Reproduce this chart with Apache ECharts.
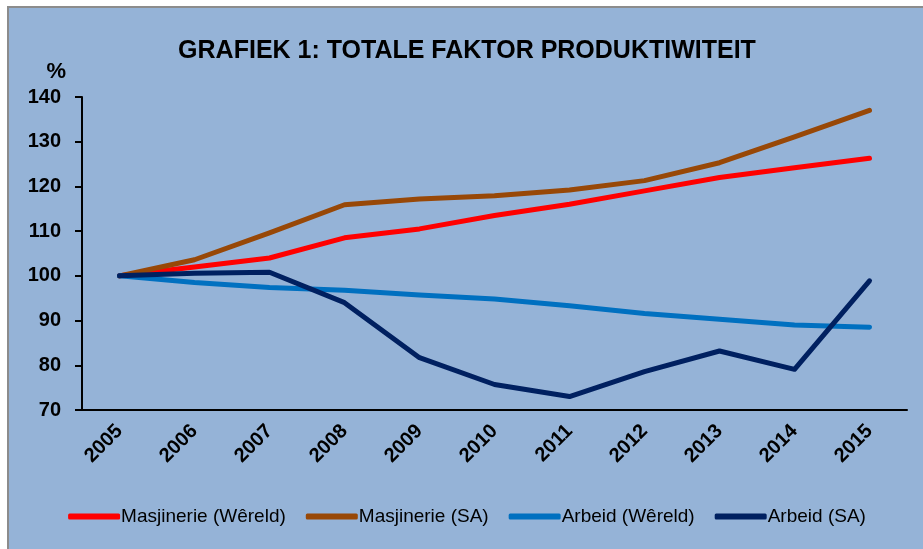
<!DOCTYPE html>
<html>
<head>
<meta charset="utf-8">
<script src="https://cdn.jsdelivr.net/npm/echarts@6/dist/echarts.min.js"></script>
<style>
  html, body { margin: 0; padding: 0; background: #fff; }
  #chart {
    position: absolute; left: 7px; top: 6px;
    width: 916px; height: 543px;
    border-left: 2px solid #8c8c8c; border-top: 2px solid #8c8c8c;
    background: #95B3D7;
  }
</style>
</head>
<body>
<div id="chart"></div>
<script>
// data
const years = ['2005', '2006', '2007', '2008', '2009', '2010', '2011', '2012', '2013', '2014', '2015'];
const masjWereld = [100, 102.0, 104.0, 108.5, 110.5, 113.5, 116.0, 119.0, 122.0, 124.2, 126.3];
const masjSA = [100, 103.6, 109.6, 115.9, 117.2, 117.9, 119.2, 121.3, 125.3, 131.1, 137.0];
const arbeidWereld = [100, 98.5, 97.4, 96.8, 95.7, 94.8, 93.3, 91.6, 90.3, 89.0, 88.5];
const arbeidSA = [100, 100.6, 100.8, 94.0, 81.7, 75.7, 73.0, 78.6, 83.2, 79.1, 98.9];

const font = '"Liberation Sans Narrow", "Liberation Sans", sans-serif';

const chart = echarts.init(document.getElementById('chart'), null, { renderer: 'canvas' });

function line(name, data, color) {
    return {
        name: name,
        type: 'line',
        data: data,
        symbol: 'none',
        lineStyle: { color: color, width: 5, cap: 'round', join: 'round' },
        itemStyle: { color: color },
        animation: false
    };
}

chart.setOption({
    backgroundColor: '#95B3D7',
    textStyle: { fontFamily: font },
    title: {
        text: 'GRAFIEK 1: TOTALE FAKTOR PRODUKTIWITEIT',
        left: 'center',
        top: 26,
        textStyle: { fontFamily: font, fontWeight: 'bold', fontSize: 25, color: '#000' }
    },
    grid: { left: 73, right: 18, top: 89, bottom: 141, containLabel: false },
    legend: {
        bottom: 20,
        left: 'center',
        itemWidth: 52,
        itemHeight: 6,
        itemGap: 20,
        icon: 'roundRect',
        textStyle: { fontFamily: font, fontSize: 19, color: '#000', padding: [0, 0, 0, -4] },
        data: ['Masjinerie (Wêreld)', 'Masjinerie (SA)', 'Arbeid (Wêreld)', 'Arbeid (SA)']
    },
    xAxis: {
        type: 'category',
        data: years,
        boundaryGap: true,
        axisLine: { lineStyle: { color: '#000', width: 2 } },
        axisTick: { show: false },
        axisLabel: {
            rotate: 45,
            margin: 18,
            color: '#000',
            fontWeight: 'bold',
            fontSize: 20,
            fontFamily: font
        }
    },
    yAxis: {
        type: 'value',
        name: '%',
        nameLocation: 'end',
        nameGap: 14,
        nameTextStyle: { fontFamily: font, fontWeight: 'bold', fontSize: 22, color: '#000', align: 'right', padding: [0, 16, 0, 0] },
        min: 70,
        max: 140,
        interval: 10,
        splitLine: { show: false },
        axisLine: { show: true, lineStyle: { color: '#000', width: 2 } },
        axisTick: { show: true, length: 7, lineStyle: { color: '#000', width: 2 } },
        axisLabel: {
            color: '#000',
            fontWeight: 'bold',
            fontSize: 20,
            margin: 21,
            fontFamily: font
        }
    },
    series: [
        line('Masjinerie (Wêreld)', masjWereld, '#FF0000'),
        line('Masjinerie (SA)', masjSA, '#984807'),
        line('Arbeid (Wêreld)', arbeidWereld, '#0070C0'),
        line('Arbeid (SA)', arbeidSA, '#002060')
    ]
});
</script>
</body>
</html>
